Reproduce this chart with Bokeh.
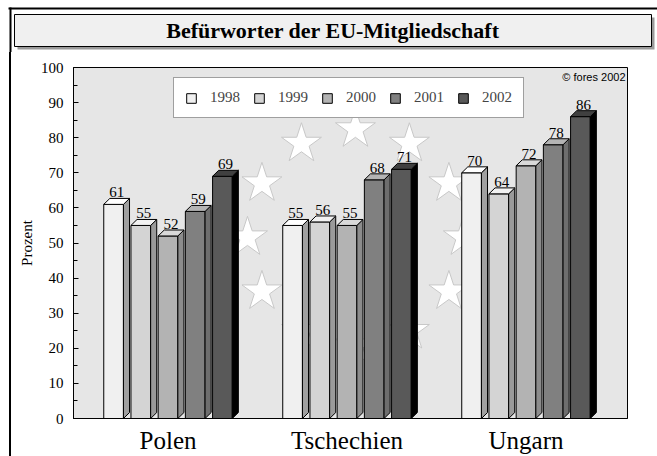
import math
from bokeh.plotting import figure
from bokeh.layouts import column, row
from bokeh.models import Range1d, FixedTicker, Legend, LegendItem, Label, Div
from bokeh.core.properties import value
from bokeh.embed import file_html
from bokeh.resources import INLINE

# ---------------- data ----------------
categories = ["Polen", "Tschechien", "Ungarn"]
years = ["1998", "1999", "2000", "2001", "2002"]
values_1998 = [61, 55, 70]
values_1999 = [55, 56, 64]
values_2000 = [52, 55, 72]
values_2001 = [59, 68, 78]
values_2002 = [69, 71, 86]
series = [values_1998, values_1999, values_2000, values_2001, values_2002]
y_ticks = [0, 10, 20, 30, 40, 50, 60, 70, 80, 90, 100]
y_minor = [5, 15, 25, 35, 45, 55, 65, 75, 85, 95]

title_text = "Befürworter der EU-Mitgliedschaft"
y_label = "Prozent"
copyright_text = "© fores 2002"

# ---------------- styles ----------------
front_colors = ["#f0f0f0", "#d4d4d4", "#b3b3b3", "#808080", "#595959"]
side_colors = ["#a0a0a0", "#9a9a9a", "#8c8c8c", "#6e6e6e", "#000000"]
top_colors = ["#ffffff", "#f2f2f2", "#d9d9d9", "#b4b4b4", "#404040"]

SERIF = "Liberation Serif"
BAR_PITCH = 0.152
BAR_W = 0.110
DX = 0.034
DY = 1.7

W = 657
HEADER_H = 52
MAIN_H = 456 - HEADER_H
STRIP_W = 11

# ---------------- header (frame + title box, decoration) ----------------
hdr = figure(width=W, height=HEADER_H, x_range=Range1d(0, W), y_range=Range1d(HEADER_H, 0),
             x_axis_type=None, y_axis_type=None, output_backend="svg",
             toolbar_location=None, min_border=0)
hdr.outline_line_color = None
hdr.xgrid.visible = False
hdr.ygrid.visible = False
hdr.background_fill_color = "white"
hdr.border_fill_color = "white"
# outer frame lines
hdr.quad(left=[8, 9], right=[W, 11], top=[7, 7], bottom=[9, HEADER_H],
         fill_color="black", line_color=None)
# title shadow + box
hdr.quad(left=[17], right=[654], top=[17], bottom=[49], fill_color="#9a9a9a", line_color=None)
hdr.quad(left=[14], right=[651], top=[14], bottom=[46], fill_color="#f0f0f0",
         line_color="black", line_width=1)
hdr.text(x=[332.5], y=[30], text=[title_text], text_align="center", text_baseline="middle",
         text_font=value(SERIF), text_font_size="22px", text_font_style="bold",
         text_color="black")

# ---------------- left strip (outer frame line) ----------------
strip = Div(text="", width=STRIP_W, height=MAIN_H, margin=0,
            styles={"background": "linear-gradient(to right, #ffffff 9px, #000000 9px)",
                    "padding": "0px"})

# ---------------- main chart ----------------
p = figure(width=W - STRIP_W, height=MAIN_H,
           x_range=Range1d(-0.528, 2.567), y_range=Range1d(0, 100),
           output_backend="svg", toolbar_location=None,
           min_border_left=62, min_border_right=30,
           min_border_top=15, min_border_bottom=38)
p.background_fill_color = "#e6e6e6"
p.border_fill_color = "white"
p.outline_line_color = "black"
p.outline_line_width = 1
p.xgrid.visible = False
p.ygrid.visible = False

# ---- EU stars (decoration) ----
star_cx, star_cy, star_rx, star_ry = 1.047, 51.6, 0.603, 30.8
sx = [star_cx + star_rx * math.sin(math.radians(30 * k)) for k in range(12)]
sy = [star_cy + star_ry * math.cos(math.radians(30 * k)) for k in range(12)]
p.scatter(sx, sy, marker="star", size=42, fill_color="white",
          line_color="#c8c8c8", line_width=1)

# ---- 3D bars ----
front_renderers = []
for i, vals in enumerate(series):
    fx, fy, rx_, ry_, tx, ty = [], [], [], [], [], []
    lx, ly, lt = [], [], []
    for j, v in enumerate(vals):
        xc = j + (i - 2) * BAR_PITCH
        xl = xc - BAR_W / 2
        xr = xc + BAR_W / 2
        fx.append([xl, xr, xr, xl]); fy.append([0, 0, v, v])
        rx_.append([xr, xr + DX, xr + DX, xr]); ry_.append([0, DY, v + DY, v])
        tx.append([xl, xr, xr + DX, xl + DX]); ty.append([v, v, v + DY, v + DY])
        lx.append(xc + DX / 2); ly.append(v + DY); lt.append(str(v))
    fr = p.patches(fx, fy, fill_color=front_colors[i], line_color="black", line_width=1)
    p.patches(rx_, ry_, fill_color=side_colors[i], line_color="black", line_width=1)
    p.patches(tx, ty, fill_color=top_colors[i], line_color="black", line_width=1)
    p.text(lx, ly, text=lt, text_align="center", text_baseline="alphabetic",
           y_offset=-6, text_font=value(SERIF), text_font_size="15px",
           text_color="black")
    front_renderers.append(fr)

# ---- axes ----
p.xaxis.ticker = FixedTicker(ticks=[0, 1, 2])
p.xaxis.major_label_overrides = {k: c for k, c in enumerate(categories)}
p.xaxis.major_tick_line_color = None
p.xaxis.minor_tick_line_color = None
p.xaxis.axis_line_color = "black"
p.xaxis.major_label_text_font = SERIF
p.xaxis.major_label_text_font_size = "25px"
p.xaxis.major_label_text_color = "black"
p.xaxis.major_label_standoff = 2

p.yaxis.ticker = FixedTicker(ticks=y_ticks, minor_ticks=y_minor)
p.yaxis.axis_line_color = "black"
p.yaxis.major_tick_in = 5
p.yaxis.major_tick_out = 0
p.yaxis.minor_tick_in = 4
p.yaxis.minor_tick_out = 0
p.yaxis.major_tick_line_color = "black"
p.yaxis.minor_tick_line_color = "black"
p.yaxis.major_label_text_font = SERIF
p.yaxis.major_label_text_font_size = "15px"
p.yaxis.major_label_text_color = "black"
p.yaxis.major_label_standoff = 10
p.yaxis.axis_label = y_label
p.yaxis.axis_label_text_font = SERIF
p.yaxis.axis_label_text_font_size = "15px"
p.yaxis.axis_label_text_font_style = "normal"
p.yaxis.axis_label_text_color = "black"
p.yaxis.axis_label_standoff = 3

# ---- legend ----
legend = Legend(items=[LegendItem(label=y, renderers=[front_renderers[i]])
                       for i, y in enumerate(years)],
                orientation="horizontal", location=(100, 300),
                glyph_width=12, glyph_height=12, label_standoff=13,
                spacing=13, padding=11, margin=0, label_height=14,
                label_text_font=SERIF, label_text_font_size="15px",
                border_line_color="#404040", border_line_width=1,
                background_fill_color="white", background_fill_alpha=1)
p.add_layout(legend)

# ---- copyright ----
p.add_layout(Label(x=552, y=342, x_units="screen", y_units="screen",
                   text=copyright_text, text_align="right", text_baseline="middle",
                   text_font="Liberation Sans", text_font_size="11px",
                   text_color="black"))

layout = column(hdr, row(strip, p, spacing=0), spacing=0)
open("out.html", "w").write(file_html(layout, INLINE))
